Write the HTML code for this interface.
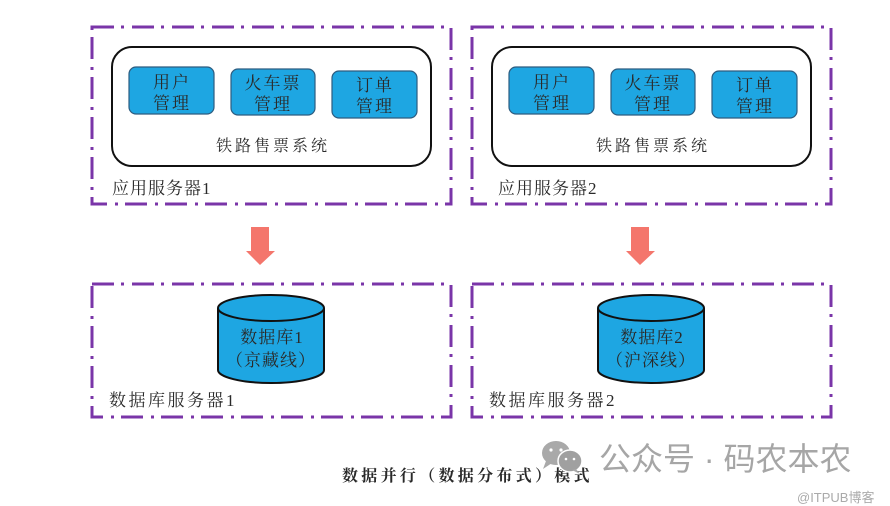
<!DOCTYPE html>
<html><head><meta charset="utf-8"><style>
html,body{margin:0;padding:0;background:#fff;}
svg{display:block;}
.t{font-family:"Liberation Serif","Noto Serif CJK SC",serif;fill:#2a2a2a;}
</style></head><body>
<svg width="890" height="506" viewBox="0 0 890 506" xmlns="http://www.w3.org/2000/svg">
<g fill="none" stroke="#7a35a8" stroke-width="3" stroke-dasharray="22 7 3 8">
<rect x="92" y="27" width="359" height="177"/>
<rect x="472" y="27" width="359" height="177"/>
<rect x="92" y="284" width="359" height="133"/>
<rect x="472" y="284" width="359" height="133"/>
</g>
<!-- app server 1 -->
<rect x="112" y="47" width="319" height="119" rx="20" fill="#fff" stroke="#111" stroke-width="2"/>
<g fill="#1ea6e2" stroke="#2d5c80" stroke-width="1.2">
<rect x="129" y="67" width="85" height="47" rx="7"/>
<rect x="231" y="69" width="84" height="46" rx="7"/>
<rect x="332" y="71" width="85" height="47" rx="7"/>
</g>
<g class="t" font-size="17" text-anchor="middle" letter-spacing="2">
<text x="172" y="88">用户</text><text x="172" y="109">管理</text>
<text x="273" y="89">火车票</text><text x="273" y="110">管理</text>
<text x="375" y="91">订单</text><text x="375" y="112">管理</text>
<text x="273" y="151" letter-spacing="3" font-size="16">铁路售票系统</text>
</g>
<text class="t" x="112" y="194" font-size="17" letter-spacing="1">应用服务器1</text>
<!-- app server 2 -->
<rect x="492" y="47" width="319" height="119" rx="20" fill="#fff" stroke="#111" stroke-width="2"/>
<g fill="#1ea6e2" stroke="#2d5c80" stroke-width="1.2">
<rect x="509" y="67" width="85" height="47" rx="7"/>
<rect x="611" y="69" width="84" height="46" rx="7"/>
<rect x="712" y="71" width="85" height="47" rx="7"/>
</g>
<g class="t" font-size="17" text-anchor="middle" letter-spacing="2">
<text x="552" y="88">用户</text><text x="552" y="109">管理</text>
<text x="653" y="89">火车票</text><text x="653" y="110">管理</text>
<text x="755" y="91">订单</text><text x="755" y="112">管理</text>
<text x="653" y="151" letter-spacing="3" font-size="16">铁路售票系统</text>
</g>
<text class="t" x="498" y="194" font-size="17" letter-spacing="1">应用服务器2</text>
<!-- arrows -->
<polygon points="251,227 269,227 269,251 275,251 260,265 246,251 251,251" fill="#f4766c"/>
<polygon points="631,227 649,227 649,251 655,251 640,265 626,251 631,251" fill="#f4766c"/>
<!-- cylinders -->
<g stroke="#111" stroke-width="2" fill="#1ea6e2">
<path d="M218,308 L218,370 A53,13 0 0 0 324,370 L324,308"/>
<ellipse cx="271" cy="308" rx="53" ry="13"/>
<path d="M598,308 L598,370 A53,13 0 0 0 704,370 L704,308"/>
<ellipse cx="651" cy="308" rx="53" ry="13"/>
</g>
<g class="t" font-size="17" text-anchor="middle" letter-spacing="1">
<text x="272" y="343">数据库1</text><text x="271" y="366">（京藏线）</text>
<text x="652" y="343">数据库2</text><text x="651" y="366">（沪深线）</text>
</g>
<text class="t" x="109" y="406" font-size="17" letter-spacing="2.5">数据库服务器1</text>
<text class="t" x="489" y="406" font-size="17" letter-spacing="2.5">数据库服务器2</text>
<!-- caption -->
<text class="t" x="342" y="481" font-size="16" letter-spacing="3.3" font-weight="bold">数据并行（数据分布式）模式</text>
<!-- watermark -->
<g fill="#a9a9a9">
<ellipse cx="556" cy="453" rx="14" ry="12"/>
<polygon points="546,461 543,469 552,463"/>
<ellipse cx="570" cy="461" rx="12" ry="11" fill="#a0a0a0" stroke="#fff" stroke-width="1.5"/>
<polygon points="576,469 580,474 572,470"/>
</g>
<g fill="#fff"><circle cx="551" cy="450" r="1.6"/><circle cx="561" cy="450" r="1.6"/><circle cx="566" cy="459" r="1.3"/><circle cx="574" cy="459" r="1.3"/></g>
<text x="599" y="470" font-family="'Liberation Sans','Noto Sans CJK SC',sans-serif" font-size="32" fill="#a6a6a6">公众号 · 码农本农</text>
<text x="797" y="502" font-family="'Liberation Sans','Noto Sans CJK SC',sans-serif" font-size="13" fill="#aaa">@ITPUB博客</text>
</svg>
</body></html>
